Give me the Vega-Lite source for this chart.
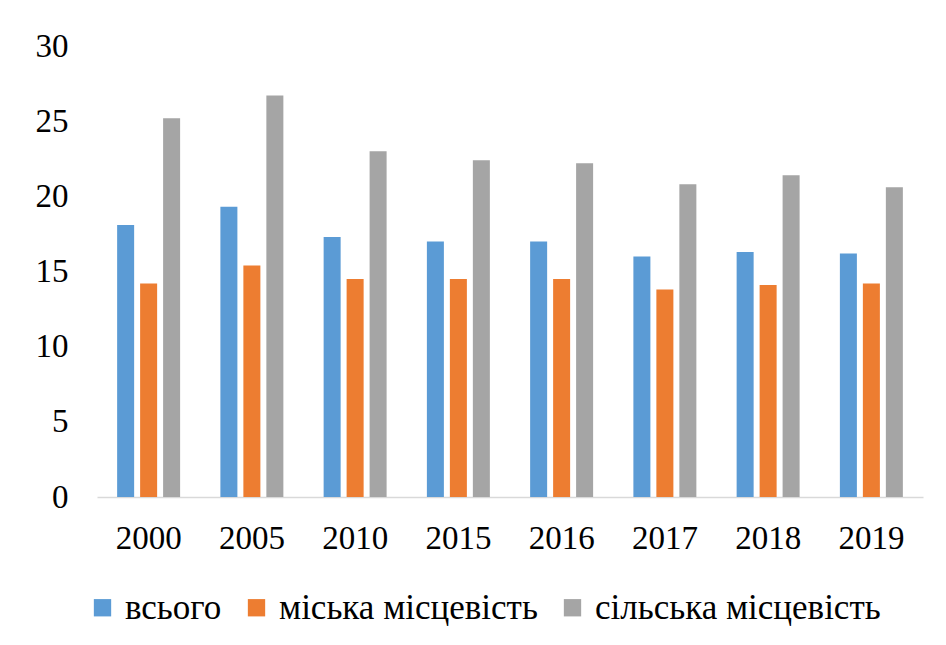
{
  "$schema": "https://vega.github.io/schema/vega-lite/v6.json",
  "width": 826,
  "height": 451,
  "autosize": {"type": "none"},
  "padding": {"left": 97, "top": 46, "right": 23, "bottom": 148},
  "background": "white",
  "config": {
    "view": {"stroke": null},
    "font": "Liberation Serif, Times New Roman, serif"
  },
  "data": {
    "values": [
      {"year": "2000", "series": "всього", "value": 18.1},
      {"year": "2000", "series": "міська місцевість", "value": 14.2},
      {"year": "2000", "series": "сільська місцевість", "value": 25.2},
      {"year": "2005", "series": "всього", "value": 19.3},
      {"year": "2005", "series": "міська місцевість", "value": 15.4},
      {"year": "2005", "series": "сільська місцевість", "value": 26.7},
      {"year": "2010", "series": "всього", "value": 17.3},
      {"year": "2010", "series": "міська місцевість", "value": 14.5},
      {"year": "2010", "series": "сільська місцевість", "value": 23.0},
      {"year": "2015", "series": "всього", "value": 17.0},
      {"year": "2015", "series": "міська місцевість", "value": 14.5},
      {"year": "2015", "series": "сільська місцевість", "value": 22.4},
      {"year": "2016", "series": "всього", "value": 17.0},
      {"year": "2016", "series": "міська місцевість", "value": 14.5},
      {"year": "2016", "series": "сільська місцевість", "value": 22.2},
      {"year": "2017", "series": "всього", "value": 16.0},
      {"year": "2017", "series": "міська місцевість", "value": 13.8},
      {"year": "2017", "series": "сільська місцевість", "value": 20.8},
      {"year": "2018", "series": "всього", "value": 16.3},
      {"year": "2018", "series": "міська місцевість", "value": 14.1},
      {"year": "2018", "series": "сільська місцевість", "value": 21.4},
      {"year": "2019", "series": "всього", "value": 16.2},
      {"year": "2019", "series": "міська місцевість", "value": 14.2},
      {"year": "2019", "series": "сільська місцевість", "value": 20.6}
    ]
  },
  "mark": {"type": "bar"},
  "encoding": {
    "x": {
      "field": "year",
      "type": "nominal",
      "sort": null,
      "scale": {"paddingInner": 0.39, "paddingOuter": 0.195},
      "axis": {
        "title": null,
        "labelAngle": 0,
        "labelFont": "Liberation Serif, Times New Roman, serif",
        "labelFontSize": 33,
        "labelColor": "#000000",
        "labelPadding": 25,
        "ticks": false,
        "domainColor": "#d9d9d9",
        "domainWidth": 1.5,
        "grid": false
      }
    },
    "xOffset": {
      "field": "series",
      "type": "nominal",
      "sort": ["всього", "міська місцевість", "сільська місцевість"],
      "scale": {"paddingInner": 0.26, "paddingOuter": 0}
    },
    "y": {
      "field": "value",
      "type": "quantitative",
      "scale": {"domain": [0, 30]},
      "axis": {
        "title": null,
        "values": [0, 5, 10, 15, 20, 25, 30],
        "labelFont": "Liberation Serif, Times New Roman, serif",
        "labelFontSize": 33,
        "labelColor": "#000000",
        "labelPadding": 29,
        "ticks": false,
        "domain": false,
        "grid": false
      }
    },
    "color": {
      "field": "series",
      "type": "nominal",
      "sort": ["всього", "міська місцевість", "сільська місцевість"],
      "scale": {
        "domain": ["всього", "міська місцевість", "сільська місцевість"],
        "range": ["#5B9BD5", "#ED7D31", "#A5A5A5"]
      },
      "legend": {
        "title": null,
        "orient": "none",
        "direction": "horizontal",
        "legendX": -12,
        "legendY": 544,
        "symbolType": "square",
        "symbolSize": 300,
        "symbolStrokeWidth": 0,
        "labelFont": "Liberation Serif, Times New Roman, serif",
        "labelFontSize": 35,
        "labelColor": "#000000",
        "labelOffset": 5,
        "columnPadding": 17,
        "labelLimit": 400
      }
    }
  }
}
